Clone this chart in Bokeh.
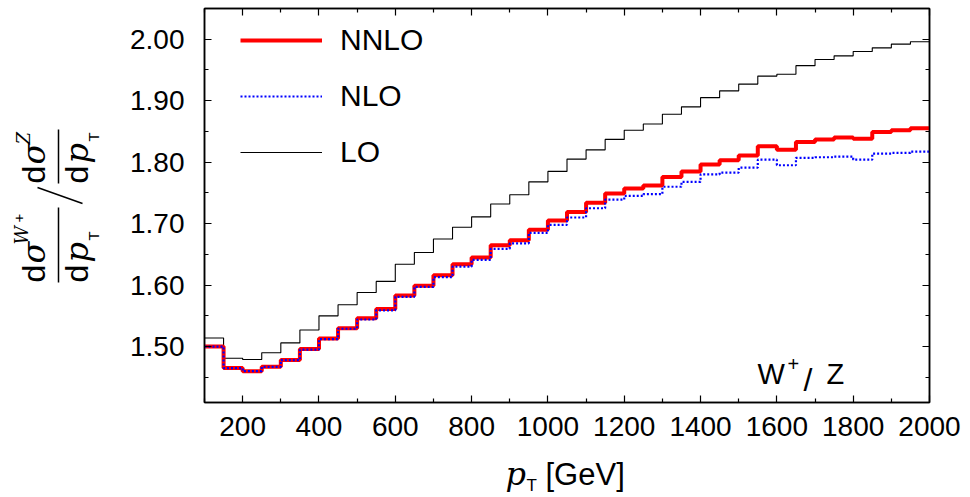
import math
from bokeh.plotting import figure
from bokeh.layouts import row, column
from bokeh.models import (Range1d, FixedTicker, LinearAxis, Legend, LegendItem,
                          Label, PrintfTickFormatter, ColumnDataSource)
from bokeh.core.properties import value
from bokeh.embed import file_html
from bokeh.resources import INLINE

# ---------------- data ----------------
pt_edges = [100, 150, 200, 250, 300, 350, 400, 450, 500, 550, 600, 650, 700, 750,
            800, 850, 900, 950, 1000, 1050, 1100, 1150, 1200, 1250, 1300, 1350,
            1400, 1450, 1500, 1550, 1600, 1650, 1700, 1750, 1800, 1850, 1900,
            1950, 2000]
ratio_lo = [1.514, 1.481, 1.479, 1.490, 1.506, 1.527, 1.550, 1.568, 1.588, 1.606,
            1.634, 1.653, 1.675, 1.694, 1.711, 1.732, 1.747, 1.768, 1.785, 1.805,
            1.820, 1.837, 1.852, 1.862, 1.878, 1.890, 1.905, 1.916, 1.927, 1.940,
            1.943, 1.957, 1.967, 1.973, 1.980, 1.986, 1.992, 1.996]
ratio_nnlo = [1.500, 1.465, 1.460, 1.467, 1.478, 1.496, 1.513, 1.530, 1.546, 1.561,
              1.583, 1.599, 1.616, 1.634, 1.645, 1.665, 1.673, 1.690, 1.705, 1.719,
              1.734, 1.749, 1.757, 1.762, 1.776, 1.785, 1.796, 1.803, 1.811, 1.826,
              1.820, 1.833, 1.837, 1.840, 1.838, 1.849, 1.852, 1.855]
ratio_nlo = [1.500, 1.465, 1.460, 1.467, 1.478, 1.495, 1.512, 1.529, 1.544, 1.559,
             1.581, 1.597, 1.613, 1.630, 1.641, 1.659, 1.668, 1.685, 1.698, 1.710,
             1.725, 1.739, 1.745, 1.748, 1.760, 1.768, 1.780, 1.783, 1.791, 1.804,
             1.795, 1.807, 1.808, 1.809, 1.804, 1.814, 1.815, 1.817]
x_major = [200, 400, 600, 800, 1000, 1200, 1400, 1600, 1800, 2000]
x_minor = [100, 300, 500, 700, 900, 1100, 1300, 1500, 1700, 1900]
y_major = [1.50, 1.60, 1.70, 1.80, 1.90, 2.00]
y_minor = [1.45, 1.55, 1.65, 1.75, 1.85, 1.95, 2.05]
series_names = ["NNLO", "NLO", "LO"]

# ---------------- layout geometry (window pixels) ----------------
W, H = 970, 497
YLW = 110            # width of the y-label strip
MH = 455             # height of main figure
FL, FR, FT, FB = 204, 929, 8, 402   # frame edges in window pixels
SANS = "Liberation Sans"
SERIF = "DejaVu Serif"
MID = 0.35           # baseline -> middle offset, in em

p = figure(width=W - YLW, height=MH, x_range=Range1d(100, 2000), y_range=Range1d(1.409, 2.05),
           output_backend="svg", toolbar_location=None,
           min_border_left=FL - YLW, min_border_right=W - FR,
           min_border_top=FT, min_border_bottom=MH - FB)
p.xgrid.visible = False
p.ygrid.visible = False
p.outline_line_color = "black"
p.outline_line_width = 1.5
p.background_fill_color = "white"
p.border_fill_color = "white"

xt = FixedTicker(ticks=x_major, minor_ticks=x_minor)
yt = FixedTicker(ticks=y_major, minor_ticks=y_minor)


def style_axis(ax, labels=True):
    ax.axis_line_color = "black"
    ax.axis_line_width = 1.5
    ax.major_tick_in = 7
    ax.major_tick_out = 0
    ax.minor_tick_in = 4
    ax.minor_tick_out = 0
    ax.major_tick_line_color = "black"
    ax.minor_tick_line_color = "black"
    ax.major_tick_line_width = 1.2
    ax.minor_tick_line_width = 1.2
    if labels:
        ax.major_label_text_font = SANS
        ax.major_label_text_font_size = "28px"
        ax.major_label_text_color = "black"
    else:
        ax.major_label_text_color = None
        ax.major_label_standoff = 0


p.xaxis[0].ticker = xt
p.yaxis[0].ticker = yt
p.yaxis[0].formatter = PrintfTickFormatter(format="%.2f")
style_axis(p.xaxis[0])
style_axis(p.yaxis[0])
p.xaxis[0].major_label_standoff = 14
p.yaxis[0].major_label_standoff = 20

ax_r = LinearAxis(ticker=yt)
style_axis(ax_r, labels=False)
p.add_layout(ax_r, "right")
ax_t = LinearAxis(ticker=xt)
style_axis(ax_t, labels=False)
p.add_layout(ax_t, "above")

# ---------------- curves ----------------
src = ColumnDataSource(dict(x=pt_edges,
                            lo=ratio_lo + [ratio_lo[-1]],
                            nlo=ratio_nlo + [ratio_nlo[-1]],
                            nnlo=ratio_nnlo + [ratio_nnlo[-1]]))
r_lo = p.step(x="x", y="lo", source=src, mode="after", line_color="black", line_width=1.1)
r_nnlo = p.step(x="x", y="nnlo", source=src, mode="after", line_color="#ff0000", line_width=4)
r_nlo = p.step(x="x", y="nlo", source=src, mode="after", line_color="#0000ff",
               line_width=2.2, line_dash="2 2")

legend = Legend(items=[LegendItem(label=series_names[0], renderers=[r_nnlo]),
                       LegendItem(label=series_names[1], renderers=[r_nlo]),
                       LegendItem(label=series_names[2], renderers=[r_lo])],
                location=(36, 230), orientation="vertical",
                glyph_width=82, glyph_height=40, label_height=40, label_standoff=18,
                spacing=16, padding=0, margin=0,
                border_line_alpha=0, background_fill_alpha=0,
                label_text_font=SANS, label_text_font_size="30px", label_text_color="black")
p.add_layout(legend)


def lab(text, px, py, size, font=SANS, style="normal"):
    p.add_layout(Label(x=px - FL, y=FB - py, x_units="screen", y_units="screen",
                       text=text, text_font=font, text_font_size=f"{size}px",
                       text_font_style=style, text_align="left",
                       text_baseline="alphabetic", text_color="black"))


# process label inside the frame
lab("W", 757, 373, 29)
lab("+", 787, 363, 20)
lab("/", 803, 379, 32)
lab("Z", 826, 373, 29)


# ---------------- helper canvases for the axis titles ----------------
def blank(width, height, yr, top=0, bottom=0):
    f = figure(width=width, height=height,
               x_range=Range1d(0, width), y_range=yr,
               output_backend="svg", toolbar_location=None, title=None,
               min_border=0, min_border_top=top, min_border_bottom=bottom,
               x_axis_location=None, y_axis_location=None)
    f.grid.visible = False
    f.outline_line_color = None
    f.background_fill_color = "white"
    f.border_fill_color = "white"
    return f


def put(fig, t, x, y, sz, fnt, st, angle=0.0):
    fig.text(x=[x], y=[y], text=[t], angle=angle, text_font=value(fnt),
             text_font_size=value(f"{sz}px"), text_font_style=value(st),
             text_align=value("left"), text_baseline=value("middle"),
             text_color="black")


R = math.pi / 2

# y-axis title strip; its frame is aligned with the main frame (rows 8..402)
# data coordinates: (window px, MH - window py)
yl = blank(YLW, MH, Range1d(MH - FB, MH - FT), top=FT, bottom=MH - FB)
ytexts = [  # text, baseline x, start y, size, font, style
    ("d", 45, 282, 32, SANS, "normal"),
    ("σ", 45, 263, 32, SERIF, "italic"),
    ("W", 27, 244, 18, SERIF, "italic"),
    ("+", 24, 222, 15, SANS, "normal"),
    ("d", 88, 282, 32, SANS, "normal"),
    ("p", 88, 262, 32, SERIF, "italic"),
    ("T", 98, 240, 15, SANS, "normal"),
    ("d", 45, 183, 32, SANS, "normal"),
    ("σ", 45, 164, 32, SERIF, "italic"),
    ("Z", 29, 144, 18, SERIF, "italic"),
    ("d", 88, 183, 32, SANS, "normal"),
    ("p", 88, 163, 32, SERIF, "italic"),
    ("T", 98, 141, 15, SANS, "normal"),
]
for t, bx, sy, sz, fnt, st in ytexts:
    # rotated text: its "up" points to screen-left, so the middle lies left of the baseline
    put(yl, t, bx - MID * sz, MH - sy, sz, fnt, st, angle=R)
ysegs = [(58, 207, 58, 282), (58, 129, 58, 183), (37, 187, 82, 203)]
yl.segment(x0=[s[0] for s in ysegs], y0=[MH - s[1] for s in ysegs],
           x1=[s[2] for s in ysegs], y1=[MH - s[3] for s in ysegs],
           line_color="black", line_width=1.5)

# x-axis title strip: data coordinates (window px, H - window py)
XLH = H - MH
xl = blank(W, XLH, Range1d(0, XLH))
xtexts = [  # text, x, baseline y, size, font, style
    ("p", 505, 485, 32, SERIF, "italic"),
    ("T", 526, 491, 17, SANS, "normal"),
    ("[GeV]", 545, 485, 31, SANS, "normal"),
]
for t, px, py, sz, fnt, st in xtexts:
    put(xl, t, px, H - (py - MID * sz), sz, fnt, st)

layout = column(row(yl, p, spacing=0), xl, spacing=0)
open("out.html", "w").write(file_html(layout, INLINE))
